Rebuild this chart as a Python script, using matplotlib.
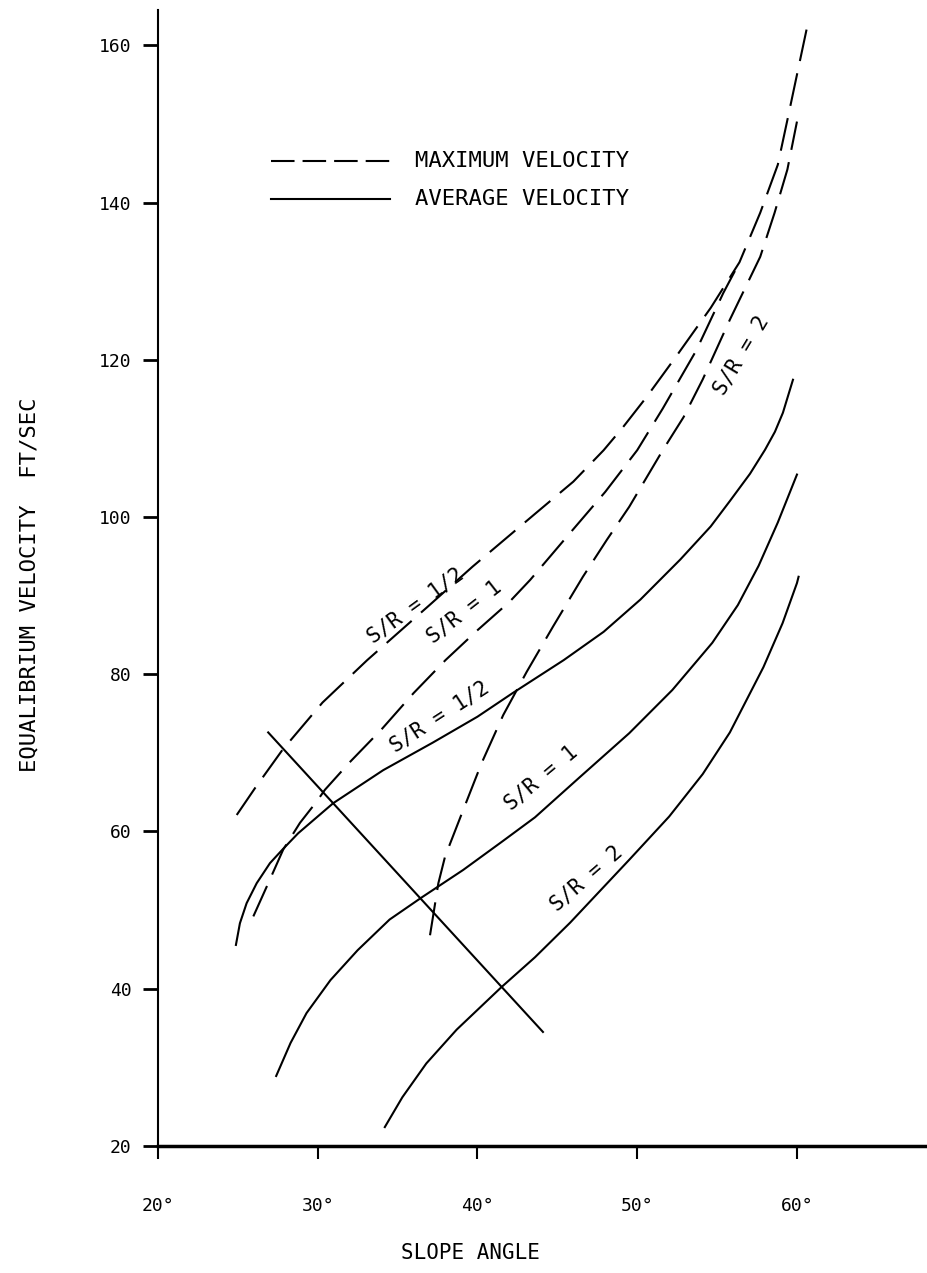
import matplotlib
matplotlib.use("Agg")
import matplotlib.pyplot as plt

plt.rcParams['font.family'] = ['DejaVu Sans Mono', 'DejaVu Sans']

# slope angle (deg) / velocity (ft/sec)
avg_half_x = [24.88, 25.13, 25.55, 26.18, 27.01, 27.84, 28.78, 30.97, 34.1, 37.2, 40.0,
              42.2, 45.4, 47.9, 50.2, 52.7, 54.6, 55.81, 57.06, 58.0, 58.62, 59.12, 59.75]
avg_half_y = [45.57, 48.33, 50.88, 53.42, 55.97, 57.8, 59.78, 63.6, 67.8, 71.3, 74.6,
              77.6, 81.8, 85.4, 89.5, 94.6, 98.8, 102.06, 105.5, 108.55, 110.84, 113.26, 117.46]

avg_one_x = [27.4, 28.3, 29.3, 30.8, 32.5, 34.5, 36.5, 39.1, 41.6, 43.6, 46.4, 49.5,
             52.2, 54.7, 56.3, 57.6, 58.8, 60.0]
avg_one_y = [28.9, 33.1, 36.9, 41.1, 44.9, 48.8, 51.6, 55.1, 58.8, 61.8, 66.9, 72.5,
             78.0, 84.0, 88.8, 93.8, 99.3, 105.4]

avg_two_x = [34.2, 35.3, 36.8, 38.7, 41.5, 43.6, 45.8, 49.5, 52.0, 54.1, 55.8, 57.9,
             59.1, 60.0, 60.1]
avg_two_y = [22.4, 26.2, 30.5, 34.8, 40.2, 44.0, 48.4, 56.4, 61.9, 67.3, 72.6, 80.9,
             86.5, 91.6, 92.4]

max_half_x = [24.93, 26.07, 27.8, 30.3, 33.1, 37.0, 39.7, 43.6, 46.0, 47.9, 49.1, 50.6,
              52.5, 54.6, 56.4, 57.7, 58.8, 59.4, 59.9, 60.6]
max_half_y = [62.1, 65.5, 70.4, 76.4, 81.8, 88.8, 93.7, 100.4, 104.5, 108.5, 111.4, 115.3,
              120.6, 126.6, 132.4, 138.7, 144.8, 150.5, 155.3, 162.0]

max_one_x = [25.97, 26.9, 27.84, 28.89, 29.93, 30.45, 32.0, 34.0, 36.0, 38.0, 40.0, 42.0,
             43.3, 45.6, 48.0, 50.0, 51.6, 53.7, 55.39, 56.43]
max_one_y = [49.2, 53.4, 57.7, 61.1, 63.8, 65.3, 68.8, 73.0, 77.6, 81.8, 85.6, 89.2,
             92.0, 97.5, 103.2, 108.5, 113.8, 121.2, 128.5, 132.5]

max_two_x = [37.03, 37.55, 37.97, 39.11, 40.26, 41.61, 43.08, 44.74, 46.6, 48.1, 49.5,
             51.6, 52.9, 54.1, 55.8, 57.7, 58.6, 59.4, 60.0]
max_two_y = [46.8, 53.4, 56.8, 62.75, 68.7, 74.8, 80.3, 86.1, 92.4, 97.1, 101.3,
             108.5, 112.7, 117.5, 125.1, 133.1, 138.7, 144.2, 150.3]

cross_x = [26.9, 44.1]
cross_y = [72.6, 34.5]

x_ticks = [20, 30, 40, 50, 60]
x_labels = ['20°', '30°', '40°', '50°', '60°']
y_ticks = [20, 40, 60, 80, 100, 120, 140, 160]

# curve labels: text, x, y, angle
curve_labels = [
    ('S/R = 1/2', 36.15, 88.8, 36),
    ('S/R = 1', 39.2, 87.9, 38),
    ('S/R = 1/2', 37.6, 74.6, 33),
    ('S/R = 1', 44.0, 66.8, 40),
    ('S/R = 2', 46.85, 54.1, 41),
    ('S/R = 2', 56.5, 120.6, 59),
]

fig = plt.figure(figsize=(9.27, 12.73), dpi=100)
ax = fig.add_axes([0.1704, 0.0998, 0.8296, 0.8924])

lw = 1.5
dash = (16, 6)
for xs, ys in [(avg_half_x, avg_half_y), (avg_one_x, avg_one_y), (avg_two_x, avg_two_y)]:
    ax.plot(xs, ys, color='black', lw=lw)
for xs, ys in [(max_half_x, max_half_y), (max_one_x, max_one_y), (max_two_x, max_two_y)]:
    ax.plot(xs, ys, color='black', lw=lw, dashes=dash)
ax.plot(cross_x, cross_y, color='black', lw=lw)

for txt, x, y, ang in curve_labels:
    ax.text(x, y, txt, fontsize=15, rotation=ang, rotation_mode='anchor',
            ha='center', va='center')

# legend drawn by hand like the original
ax.plot([27.1, 34.5], [145.3, 145.3], color='black', lw=lw, dashes=(11.3, 3.85))
ax.plot([27.1, 34.5], [140.5, 140.5], color='black', lw=lw)
ax.text(36.1, 145.3, 'MAXIMUM VELOCITY', fontsize=16, va='center', ha='left')
ax.text(36.1, 140.5, 'AVERAGE VELOCITY', fontsize=16, va='center', ha='left')

ax.set_xlim(20, 68.14)
ax.set_ylim(20, 164.5)
ax.set_xticks(x_ticks)
ax.set_xticklabels(x_labels, fontsize=13)
ax.set_yticks(y_ticks)
ax.set_yticklabels([str(v) for v in y_ticks], fontsize=13)
ax.tick_params(axis='x', length=9, width=1.5, pad=28)
ax.tick_params(axis='y', length=11, width=2, pad=8)

ax.spines['top'].set_visible(False)
ax.spines['right'].set_visible(False)
ax.spines['left'].set_linewidth(1.5)
ax.spines['bottom'].set_linewidth(2.5)

ax.set_xlabel('SLOPE ANGLE', fontsize=15, va='center')
ax.xaxis.set_label_coords(0.4057, -0.0942)
ax.set_ylabel('EQUALIBRIUM VELOCITY  FT/SEC', fontsize=16, va='center')
ax.yaxis.set_label_coords(-0.1665, 0.494)

fig.savefig('out.png', dpi=100, facecolor='white')
